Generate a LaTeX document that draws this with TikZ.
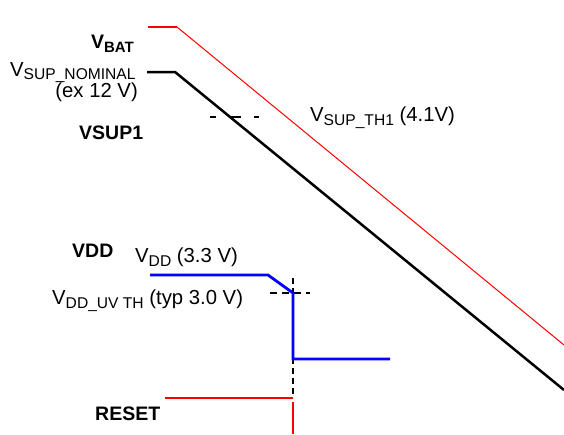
\documentclass[tikz,border=0pt]{standalone}
\usepackage{fontspec}
\setmainfont{Liberation Sans}
\newcommand\sbx[1]{\raisebox{-4pt}{\fontsize{15.6}{15.6}\selectfont #1}}
\newcommand\sbn[1]{\raisebox{-3pt}{\fontsize{15.6}{15.6}\selectfont #1}}
\newcommand\sbb[1]{\raisebox{-4pt}{\fontsize{15}{15}\selectfont #1}}
\begin{document}
\begin{tikzpicture}[x=1pt,y=-1pt,
  lbl/.style={inner sep=0pt,font=\fontsize{20.3}{22}\selectfont},
  blbl/.style={inner sep=0pt,font=\fontsize{19.5}{22}\selectfont\bfseries},
  sig/.style={line width=2.5pt,line join=miter},
  guide/.style={line width=1.3pt,dash pattern=on 7pt off 5pt}]
\useasboundingbox (0,0) rectangle (564,434);
% coordinates
\coordinate (b0) at (148,27); \coordinate (b1) at (177,27); \coordinate (b2) at (564,345);
\coordinate (s0) at (147,72); \coordinate (s1) at (175,72); \coordinate (s2) at (564,390);
\coordinate (t0) at (210,117); \coordinate (t1) at (259,117);
\coordinate (d0) at (150,275); \coordinate (d1) at (268,275); \coordinate (d2) at (293,293);
\coordinate (d3) at (293,359); \coordinate (d4) at (390,359);
\coordinate (h0) at (270,293); \coordinate (h1) at (310,293);
\coordinate (v0) at (293,278); \coordinate (v1) at (293,398);
\coordinate (r0) at (165,398); \coordinate (r1) at (293,398);
\coordinate (r2) at (293,402); \coordinate (r3) at (293,434);
% signals
\draw[red,line width=2pt] (b0) -- (b1);
\draw[red,line width=1pt] (b1) -- (b2);
\draw[sig,black] (s0) -- (s1) -- (s2);
\draw[line width=1.3pt,dash pattern=on 6pt off 14pt on 11pt off 13pt on 6pt] (t0) -- (t1);
\draw[guide] (h0) -- (h1);
\draw[line width=1.3pt,dash pattern=on 6pt off 4pt] (v0) -- (v1);
\draw[sig,blue,line width=2.8pt] (d0) -- (d1) -- (d2) -- (d3) -- (d4);
\draw[sig,red] (r0) -- (r1);
\draw[sig,red] (r2) -- (r3);
% labels
\node[blbl,anchor=base east] (lvbat) at (134,48) {V\sbb{BAT}};
\node[lbl,anchor=base west] (lnom) at (10,76) {V\sbn{SUP\_NOMINAL}};
\node[lbl,anchor=base east] (lex) at (138,97) {(ex 12 V)};
\node[blbl,anchor=base west] (lsup1) at (79,139) {VSUP1};
\node[lbl,anchor=base west] (lth) at (310,121) {V\sbx{SUP\_TH1} (4.1V)};
\node[blbl,anchor=base west] (lvdd) at (72,257) {VDD};
\node[lbl,anchor=base west] (lvdd33) at (135,262) {V\sbx{DD} (3.3 V)};
\node[lbl,anchor=base west] (luv) at (52,304) {V\sbx{DD\_UV TH} (typ 3.0 V)};
\node[blbl,anchor=base west] (lreset) at (95,420) {RESET};
\end{tikzpicture}
\end{document}
